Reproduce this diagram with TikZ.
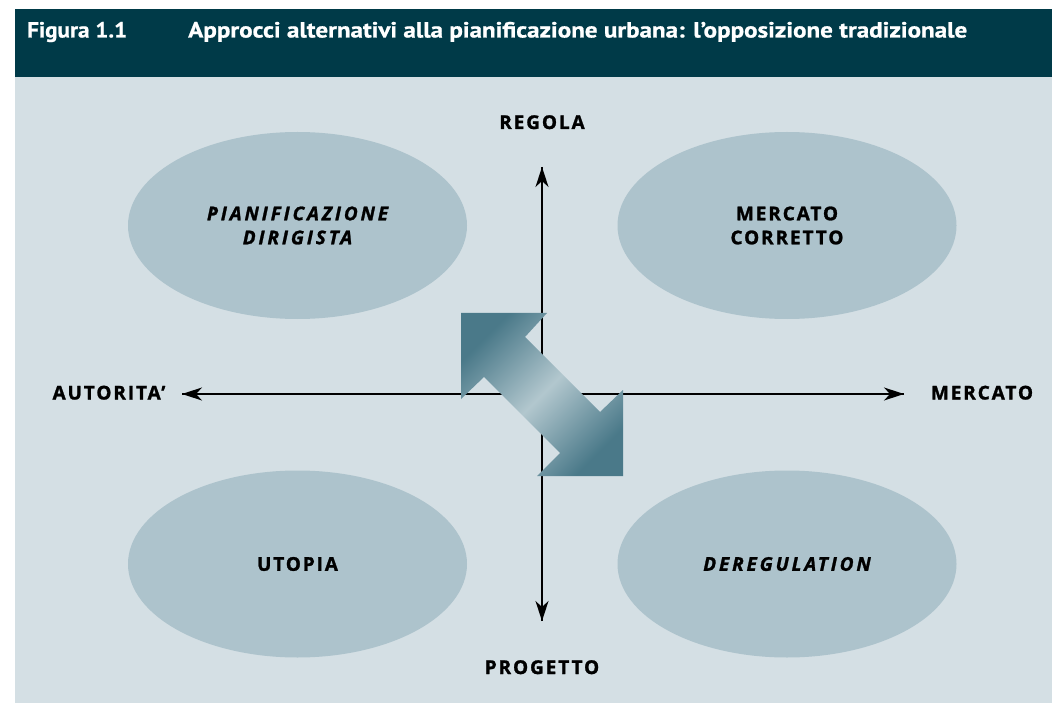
\documentclass[tikz,border=0pt]{standalone}
\usepackage{fontspec}
\usepackage{graphicx}
\setmainfont{Open Sans}
\newfontfamily\titlefont[BoldFeatures={FakeBold=0.8}]{PT Sans}
\newfontfamily\lblfont[LetterSpace=10, BoldFont={Open Sans Bold}, BoldItalicFont={Open Sans Bold Italic}, BoldFeatures={FakeBold=1.3}, BoldItalicFeatures={FakeBold=1.3, LetterSpace=15}]{Open Sans}
\usetikzlibrary{arrows.meta,shapes.geometric}
\definecolor{band}{HTML}{003A48}
\definecolor{panel}{HTML}{D4DFE4}
\definecolor{ellfill}{HTML}{ADC3CC}
\definecolor{arrdark}{HTML}{4A7989}
\definecolor{arrlight}{HTML}{B2C7CE}
\begin{document}
\begin{tikzpicture}[x=1pt,y=-1pt,
  lbl/.style={font=\lblfont\bfseries\fontsize{19}{24}\selectfont, text=black, inner sep=0pt, align=center},
  quad/.style={ellipse, fill=ellfill, minimum width=339pt, minimum height=187pt, inner sep=0pt},
  axisline/.style={line width=1.6pt, black, -{Stealth[length=20pt,width=13pt,inset=6pt]}},
  ttl/.style={anchor=base west, text=white, inner sep=0pt, font=\titlefont\bfseries\fontsize{22}{26}\selectfont}
]
\useasboundingbox (0,0) rectangle (1052,703);
\fill[white] (0,0) rectangle (1052,703);
\fill[band] (15,9) rectangle (1052,77);
\fill[panel] (15,77) rectangle (1052,703);

\node[ttl] (fig) at (27,37.5) {\resizebox{100pt}{\height}{Figura 1.1}};
\node[ttl] (title) at (188,37.5) {\resizebox{779pt}{\height}{Approcci alternativi alla pianificazione urbana: l’opposizione tradizionale}};

\node[quad, lbl] (pd) at (297.5,225.5) {\itshape PIANIFICAZIONE\\\itshape DIRIGISTA};
\node[quad, lbl] (mc) at (787,225.5) {MERCATO\\CORRETTO};
\node[quad, lbl] (ut) at (297.5,564) {UTOPIA};
\node[quad, lbl] (dr) at (787,564) {\itshape DEREGULATION};

\node[lbl, anchor=base] (regola) at (542,129) {REGOLA};
\node[lbl, anchor=base] (progetto) at (542,674) {PROGETTO};
\node[lbl, anchor=base] (autorita) at (109,399.5) {AUTORITA’};
\node[lbl, anchor=base] (mercato) at (982,399.5) {MERCATO};

\coordinate (axL) at (182,394);
\coordinate (axR) at (904,394);
\coordinate (axT) at (542,167);
\coordinate (axB) at (542,621);
\draw[axisline] (axR) -- (axL);
\draw[axisline] (axL) -- (axR);
\draw[axisline] (axB) -- (axT);
\draw[axisline] (axT) -- (axB);

\shade[top color=arrdark, bottom color=arrdark, middle color=arrlight, shading angle=45]
  (461,313) -- (547,313) -- (525,337) -- (600,412) -- (623,390) -- (623,476)
  -- (537,476) -- (560,453) -- (484,377) -- (461,399) -- cycle;
\end{tikzpicture}
\end{document}
